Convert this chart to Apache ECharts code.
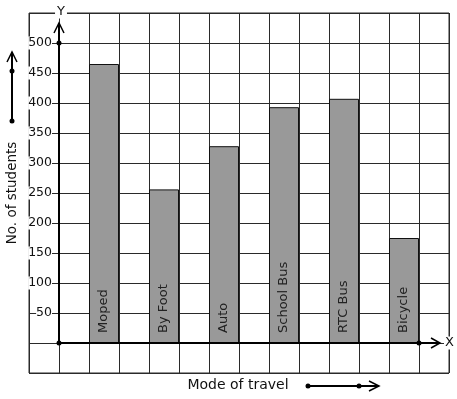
<!DOCTYPE html>
<html><head><meta charset="utf-8">
<script src="https://cdn.jsdelivr.net/npm/echarts@6/dist/echarts.min.js"></script>
<style>html,body{margin:0;padding:0;background:#fff}#c{width:457px;height:399px}</style>
</head><body><div id="c"></div>
<script>
const categories = ['Moped', 'By Foot', 'Auto', 'School Bus', 'RTC Bus', 'Bicycle'];
const students = [465, 256, 328, 393, 407, 175];
const yTicks = [50, 100, 150, 200, 250, 300, 350, 400, 450, 500];
const yTitle = 'No. of students';
const xTitle = 'Mode of travel';

// 14 grid columns; bars occupy every second column starting at column 2
const slots = 14;
const slotNames = [], slotValues = [];
for (let i = 0; i < slots; i++) { slotNames.push(''); slotValues.push(null); }
categories.forEach((c, k) => { slotNames[2 + 2 * k] = c; slotValues[2 + 2 * k] = students[k]; });

const FONT = 'DejaVu Sans';
const G = { left: 29, top: 13, width: 420, height: 360 };
const chart = echarts.init(document.getElementById('c'), null, { renderer: 'canvas' });
const gridColor = '#2a2a2a';
chart.setOption({
  animation: false,
  textStyle: { fontFamily: FONT },
  grid: { left: G.left, top: G.top, width: G.width, height: G.height, show: true, borderColor: gridColor, borderWidth: 1, backgroundColor: 'transparent' },
  xAxis: {
    type: 'category', data: slotNames, boundaryGap: true,
    axisLine: { show: false }, axisTick: { show: false }, axisLabel: { show: false },
    splitLine: { show: true, interval: 0, lineStyle: { color: gridColor, width: 1 } }
  },
  yAxis: {
    type: 'value', min: -50, max: 550, interval: 50, offset: -30,
    axisLine: { show: false }, axisTick: { show: false },
    splitLine: { show: true, lineStyle: { color: gridColor, width: 1 } },
    axisLabel: {
      margin: 7, fontSize: 12.5, color: '#111', fontFamily: FONT,
      backgroundColor: '#fff', padding: [0, 0, 0, 0],
      formatter: v => yTicks.indexOf(v) >= 0 ? String(v) : ''
    }
  },
  series: [{
    type: 'bar', data: slotValues, barWidth: '100%',
    itemStyle: { color: '#999999', borderColor: '#111', borderWidth: 1 },
    label: {
      show: true, position: 'insideBottom', rotate: 90, align: 'left', verticalAlign: 'middle',
      distance: 10, fontSize: 13, color: '#222', fontFamily: FONT,
      formatter: p => p.name
    }
  }]
});

// axes with arrows and titles drawn from converted coordinates
const y0 = chart.convertToPixel({ yAxisIndex: 0 }, 0);
const y500 = chart.convertToPixel({ yAxisIndex: 0 }, 500);
const slotW = G.width / slots;
const ax = G.left + slotW;                 // y axis sits on the boundary of first column
const xEnd = G.left + G.width - 9;
const yTop = G.top + 10;
const xDot = G.left + slotW * 13;
const black = '#000';
const ls = { stroke: black, lineWidth: 2 };
const dot = (x, y) => ({ type: 'circle', shape: { cx: x, cy: y, r: 2.5 }, style: { fill: black }, z: 100 });
chart.setOption({
  graphic: [
    { type: 'line', shape: { x1: ax, y1: y0, x2: ax, y2: yTop }, style: ls, z: 100 },
    { type: 'polyline', shape: { points: [[ax - 5, yTop + 10], [ax, yTop], [ax + 5, yTop + 10]] }, style: { stroke: black, lineWidth: 1.5, fill: null }, z: 100 },
    { type: 'line', shape: { x1: ax, y1: y0, x2: xEnd, y2: y0 }, style: ls, z: 100 },
    { type: 'polyline', shape: { points: [[xEnd - 9, y0 - 5], [xEnd, y0], [xEnd - 9, y0 + 5]] }, style: { stroke: black, lineWidth: 1.5, fill: null }, z: 100 },
    dot(ax, y0), dot(ax, y500), dot(xDot, y0),
    { type: 'text', style: { text: 'Y', x: ax + 2, y: G.top - 1, fontSize: 13, fontFamily: FONT, fill: '#111', align: 'center', verticalAlign: 'middle', backgroundColor: '#fff', padding: [0, 2] }, z: 100 },
    { type: 'text', style: { text: 'X', x: xEnd + 4, y: y0, fontSize: 13, fontFamily: FONT, fill: '#111', align: 'left', verticalAlign: 'middle', backgroundColor: '#fff', padding: [0, 1] }, z: 100 },
    { type: 'text', x: 12, y: 193, rotation: Math.PI / 2, style: { text: yTitle, fontSize: 13.5, fontFamily: FONT, fill: '#111', align: 'center', verticalAlign: 'middle' }, z: 100 },
    { type: 'text', style: { text: xTitle, x: 238, y: 385, fontSize: 14, fontFamily: FONT, fill: '#111', align: 'center', verticalAlign: 'middle' }, z: 100 },
    // decorative direction arrows next to the titles
    { type: 'line', shape: { x1: 12, y1: 121, x2: 12, y2: 52 }, style: ls, z: 100 },
    { type: 'polyline', shape: { points: [[7, 62], [12, 52], [17, 62]] }, style: { stroke: black, lineWidth: 1.5, fill: null }, z: 100 },
    dot(12, 121), dot(12, 71),
    { type: 'line', shape: { x1: 308, y1: 386, x2: 379, y2: 386 }, style: ls, z: 100 },
    { type: 'polyline', shape: { points: [[369, 381], [379, 386], [369, 391]] }, style: { stroke: black, lineWidth: 1.5, fill: null }, z: 100 },
    dot(308, 386), dot(359, 386)
  ]
});
</script></body></html>
